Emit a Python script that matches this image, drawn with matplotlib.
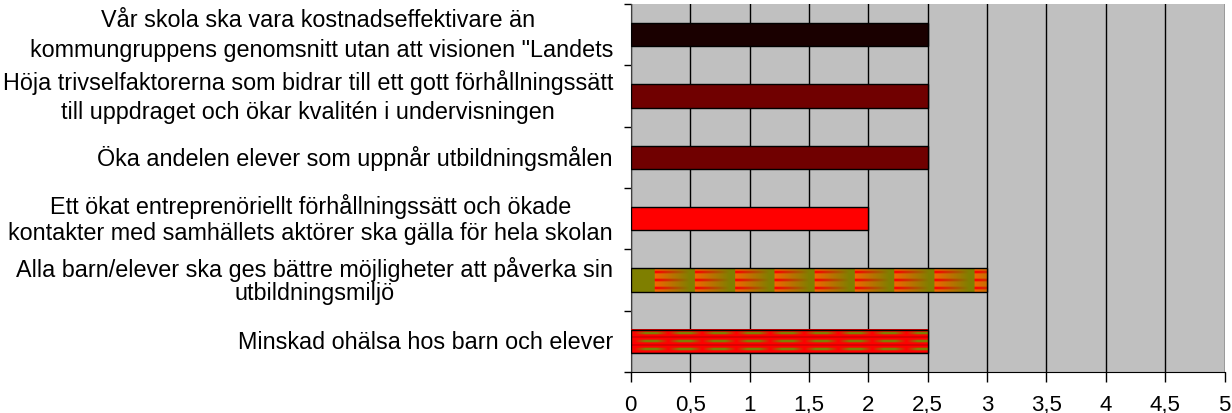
import matplotlib.pyplot as plt
import numpy as np

# categories listed top to bottom
labels = [
    "Vår skola ska vara kostnadseffektivare än \nkommungruppens genomsnitt utan att visionen \"Landets",
    "Höja trivselfaktorerna som bidrar till ett gott förhållningssätt\ntill uppdraget och ökar kvalitén i undervisningen",
    "Öka andelen elever som uppnår utbildningsmålen",
    "Ett ökat entreprenöriellt förhållningssätt och ökade\nkontakter med samhällets aktörer ska gälla för hela skolan",
    "Alla barn/elever ska ges bättre möjligheter att påverka sin\nutbildningsmiljö",
    "Minskad ohälsa hos barn och elever",
]
values = [2.5, 2.5, 2.5, 2.0, 3.0, 2.5]
colors = ["#1a0000", "#700000", "#700000", "#ff0000", None, None]
patterns = [None, None, None, None, "saw", "band"]
line_sp = [1.38, 1.38, 1.0, 1.2, 1.05, 1.0]

xticks = np.arange(0, 5.01, 0.5)
xticklabels = ["0", "0,5", "1", "1,5", "2", "2,5", "3", "3,5", "4", "4,5", "5"]

OLIVE = np.array([0.5, 0.5, 0.0])
RED = np.array([1.0, 0.0, 0.0])
ORANGE = np.array([0.95, 0.4, 0.0])


def texture(kind, length, rows=36):
    # fill texture imitating the old office gradient fills
    cols = int(length * 160)
    x = np.linspace(0, length, cols)
    r = np.arange(rows)
    img = np.zeros((rows, cols, 3))
    stripe = (r % 12 >= 4) & (r % 12 <= 7)
    if kind == "saw":
        s = ((x - 0.2) % 0.336) / 0.336
        s[x < 0.2] = 1.0
        w = np.clip(s * 1.15, 0, 1)[:, None]
        base = ORANGE * (1 - w) + OLIVE * w
        redrow = RED * (1 - w) + OLIVE * w
        img[:] = base
        img[stripe] = redrow
    else:
        t = ((x - 0.025) % 0.287) / 0.287
        d = 1 - np.abs(2 * t - 1)
        w = np.clip(d * 1.5, 0, 1)[:, None]
        base = RED * (1 - w) + OLIVE * w
        img[:] = RED
        img[stripe] = base
        lines = (r % 12 == 0) | (r % 12 == 11)
        img[lines] = np.array([0.8, 0.0, 0.0])
    return img


plt.rcParams["font.family"] = ["Liberation Sans", "DejaVu Sans"]

fig = plt.figure(figsize=(12.32, 4.14), dpi=100)
ax = fig.add_axes([0.512, 0.099, 0.482, 0.889])
ax.set_facecolor("#c0c0c0")

n = len(labels)
ypos = np.arange(n)[::-1]  # first label at top
bh = 0.38

for y, v, c, p in zip(ypos, values, colors, patterns):
    if p:
        ax.imshow(texture(p, v), extent=(0, v, y - bh / 2, y + bh / 2),
                  aspect="auto", interpolation="bilinear", zorder=3)
        ax.barh(y, v, height=bh, color="none", edgecolor="black", linewidth=1, zorder=4)
    else:
        ax.barh(y, v, height=bh, color=c, edgecolor="black", linewidth=1, zorder=3)

ax.set_xlim(0, 5)
ax.set_ylim(-0.5, n - 0.5)
ax.set_xticks(xticks)
ax.set_xticklabels(xticklabels, fontsize=16)
ax.xaxis.grid(True, color="black", linewidth=1)
ax.set_axisbelow(True)

# y ticks sit at category boundaries
ax.set_yticks(np.arange(-0.5, n, 1.0))
ax.set_yticklabels([])
ax.tick_params(axis="y", length=5, width=1, direction="out")
ax.tick_params(axis="x", length=7, width=1, direction="out", pad=9)

for y, lab, ls in zip(ypos, labels, line_sp):
    ax.text(-0.03, y, lab, ha="right", va="center", multialignment="center",
            fontsize=16.8, linespacing=ls, transform=ax.get_yaxis_transform())

for side in ["top", "right"]:
    ax.spines[side].set_visible(False)
ax.spines["left"].set_color("#404040")
ax.spines["bottom"].set_color("black")

fig.savefig("out.png", dpi=100)
